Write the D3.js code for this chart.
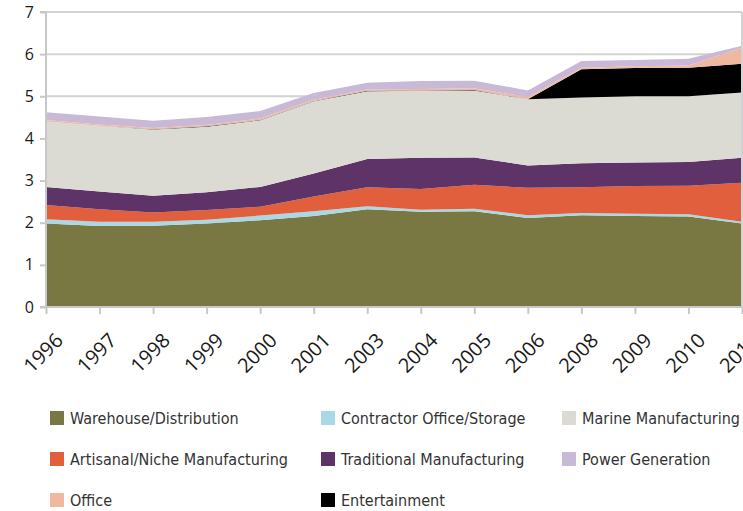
<!DOCTYPE html>
<html>
<head>
<meta charset="utf-8">
<script src="https://cdn.jsdelivr.net/npm/d3@7"></script>
<style>
	body { margin: 0; background: #fff; }
	.legend text { font-family: "DejaVu Sans Condensed", "DejaVu Sans", sans-serif; font-size: 16px; fill: #333; }
	.axis text { font-family: "Open Sans", "Liberation Sans", sans-serif; fill: #1a1a1a; }
</style>
</head>
<body>
<div class="canva"></div>
<script>
const years = ["1996", "1997", "1998", "1999", "2000", "2001", "2003", "2004", "2005", "2006", "2008", "2009", "2010", "2011"];

const warehouse = [1.98, 1.92, 1.93, 1.98, 2.06, 2.16, 2.32, 2.26, 2.27, 2.11, 2.18, 2.16, 2.15, 1.98];
const contractor = [0.10, 0.10, 0.09, 0.09, 0.11, 0.11, 0.07, 0.05, 0.06, 0.07, 0.05, 0.05, 0.05, 0.04];
const artisanal = [0.34, 0.30, 0.22, 0.23, 0.21, 0.35, 0.45, 0.49, 0.57, 0.65, 0.61, 0.66, 0.68, 0.93];
const traditional = [0.43, 0.42, 0.40, 0.42, 0.47, 0.55, 0.67, 0.74, 0.65, 0.53, 0.57, 0.56, 0.56, 0.59];
const marine = [1.55, 1.56, 1.57, 1.56, 1.58, 1.71, 1.61, 1.59, 1.59, 1.57, 1.56, 1.57, 1.56, 1.55];
const entertainment = [0, 0, 0.01, 0.01, 0.01, 0.01, 0.01, 0.01, 0.01, 0, 0.67, 0.67, 0.68, 0.68];
const office = [0.04, 0.03, 0.03, 0.03, 0.03, 0.03, 0.03, 0.03, 0.04, 0.05, 0.04, 0.04, 0.05, 0.38];
const power = [0.18, 0.19, 0.17, 0.19, 0.18, 0.16, 0.16, 0.19, 0.18, 0.16, 0.16, 0.15, 0.16, 0.05];

const yTicks = [0, 1, 2, 3, 4, 5, 6, 7];

// stacking order, bottom to top
const series = [
	{ key: "Warehouse/Distribution", values: warehouse, color: "#7a7842" },
	{ key: "Contractor Office/Storage", values: contractor, color: "#a8d9e4" },
	{ key: "Artisanal/Niche Manufacturing", values: artisanal, color: "#e25f3d" },
	{ key: "Traditional Manufacturing", values: traditional, color: "#5e3468" },
	{ key: "Marine Manufacturing", values: marine, color: "#dcdbd3" },
	{ key: "Entertainment", values: entertainment, color: "#000000" },
	{ key: "Office", values: office, color: "#f1b8a0" },
	{ key: "Power Generation", values: power, color: "#c8b9d6" }
];

// legend reads row by row
const legendOrder = [
	"Warehouse/Distribution", "Contractor Office/Storage", "Marine Manufacturing",
	"Artisanal/Niche Manufacturing", "Traditional Manufacturing", "Power Generation",
	"Office", "Entertainment"
];

const table = years.map((yr, i) => {
	const row = { year: yr };
	series.forEach((s) => (row[s.key] = s.values[i]));
	return row;
});

const width = 743, height = 511;
const m = { left: 46, right: 742, top: 12, bottom: 307 };

const svg = d3.select(".canva")
	.append("svg")
	.attr("width", width)
	.attr("height", height);

const x = d3.scalePoint().domain(years).range([m.left, m.right]);
const y = d3.scaleLinear().domain([0, 7]).range([m.bottom, m.top]);

//gridlines
svg.append("g")
	.selectAll("line")
	.data(yTicks.slice(1))
	.enter()
	.append("line")
	.attr("x1", m.left)
	.attr("x2", m.right)
	.attr("y1", (d) => y(d))
	.attr("y2", (d) => y(d))
	.attr("stroke", "#d3d3d3")
	.attr("stroke-width", 2);

const stack = d3.stack().keys(series.map((s) => s.key));
const layers = stack(table);

const area = d3.area()
	.x((d) => x(d.data.year))
	.y0((d) => y(d[0]))
	.y1((d) => y(d[1]));

svg.append("g")
	.selectAll("path")
	.data(layers)
	.enter()
	.append("path")
	.attr("d", area)
	.attr("fill", (d, i) => series[i].color);

// right border
svg.append("line")
	.attr("x1", m.right).attr("x2", m.right)
	.attr("y1", m.top).attr("y2", m.bottom)
	.attr("stroke", "#d3d3d3").attr("stroke-width", 2);

//y axis
const yAxis = svg.append("g")
	.attr("class", "axis")
	.attr("transform", `translate(${m.left},0)`)
	.call(d3.axisLeft(y).tickValues(yTicks).tickFormat(d3.format("d")).tickSize(6).tickPadding(6));
yAxis.selectAll("line, path").attr("stroke", "#c8c8c8").attr("stroke-width", 2);
yAxis.select("path").attr("d", `M-6,${m.bottom}H0V${m.top}H-6`);
yAxis.selectAll("text").style("font-size", "16px");

//x axis
const xAxis = svg.append("g")
	.attr("class", "axis")
	.attr("transform", `translate(0,${m.bottom})`)
	.call(d3.axisBottom(x).tickSize(7).tickPadding(4));
xAxis.selectAll("line, path").attr("stroke", "#c8c8c8").attr("stroke-width", 2);
xAxis.select("path").attr("d", `M${m.left},0H${m.right}`);
xAxis.selectAll("text")
	.style("font-size", "20px")
	.attr("text-anchor", "end")
	.attr("dy", "0.35em")
	.attr("transform", "translate(5,22) rotate(-45)");

//legend
const cols = [50, 321, 562];
const rows = [418, 459, 500];
const legend = svg.append("g").attr("class", "legend")
	.selectAll("g")
	.data(legendOrder)
	.enter()
	.append("g")
	.attr("transform", (d, i) => `translate(${cols[i % 3]},${rows[Math.floor(i / 3)]})`);

legend.append("rect")
	.attr("x", 0)
	.attr("y", -7)
	.attr("width", 14)
	.attr("height", 14)
	.attr("fill", (d) => series.find((s) => s.key === d).color);

legend.append("text")
	.attr("x", 20)
	.attr("y", 0)
	.attr("dy", "0.35em")
	.text((d) => d);
</script>
</body>
</html>
